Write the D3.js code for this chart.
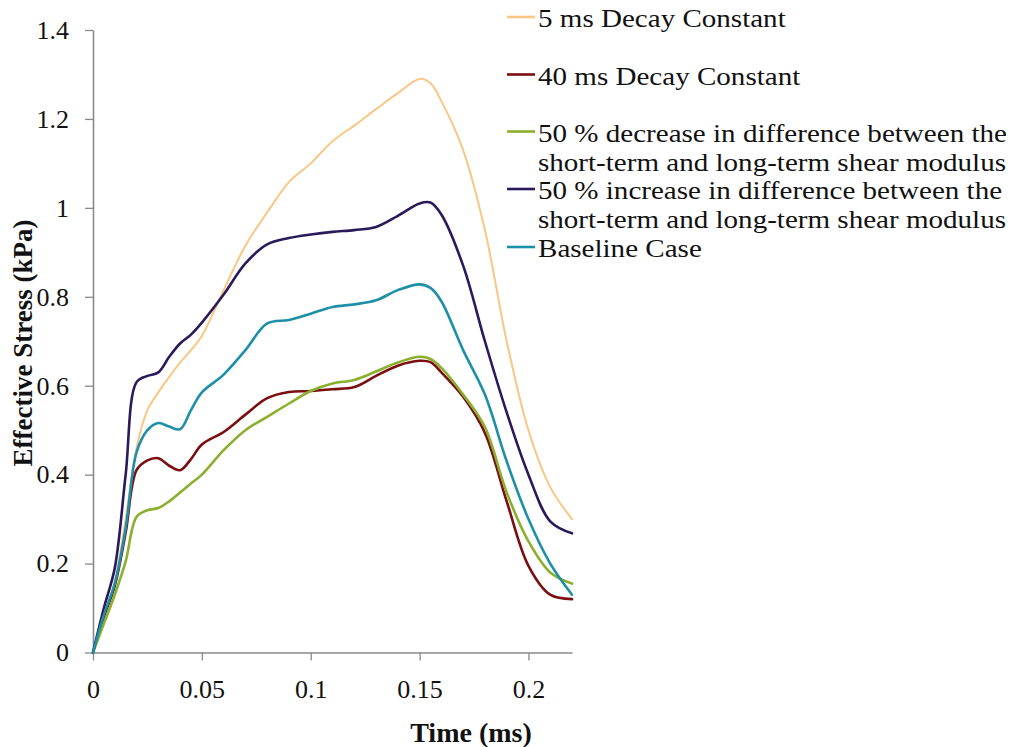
<!DOCTYPE html>
<html>
<head>
<meta charset="utf-8">
<script src="https://cdn.jsdelivr.net/npm/d3@7"></script>
<style>
  html, body { margin: 0; padding: 0; background: #fff; }
  svg { display: block; }
  text { font-family: "Liberation Serif", "Times New Roman", serif; fill: #111; }
</style>
</head>
<body>
<svg id="chart" width="1018" height="747"></svg>
<script>
// Sample times (ms) shared by every series
const times = [0, 0.005, 0.01, 0.015, 0.02, 0.025, 0.03, 0.035, 0.04, 0.045, 0.05,
  0.06, 0.07, 0.08, 0.09, 0.1, 0.11, 0.12, 0.13, 0.14, 0.15, 0.155, 0.16, 0.17,
  0.18, 0.19, 0.2, 0.21, 0.22];

// Effective stress (kPa) for each case
const decay5ms = [0, 0.08, 0.16, 0.30, 0.46, 0.545, 0.585, 0.62, 0.652, 0.68, 0.712,
  0.815, 0.915, 0.99, 1.058, 1.10, 1.15, 1.185, 1.222, 1.258, 1.29, 1.28, 1.24, 1.13,
  0.95, 0.70, 0.50, 0.372, 0.30];
const decay40ms = [0, 0.08, 0.15, 0.27, 0.41, 0.432, 0.437, 0.42, 0.41, 0.435, 0.468,
  0.496, 0.535, 0.572, 0.586, 0.588, 0.592, 0.597, 0.622, 0.645, 0.656, 0.653, 0.63, 0.575,
  0.494, 0.34, 0.195, 0.13, 0.12];
const decrease50 = [0, 0.065, 0.13, 0.205, 0.305, 0.32, 0.325, 0.34, 0.36, 0.38, 0.40,
  0.455, 0.50, 0.53, 0.56, 0.588, 0.605, 0.613, 0.632, 0.652, 0.665, 0.66, 0.64, 0.58,
  0.507, 0.36, 0.25, 0.18, 0.155];
const increase50 = [0, 0.10, 0.19, 0.40, 0.608, 0.622, 0.63, 0.665, 0.695, 0.715, 0.742,
  0.805, 0.875, 0.918, 0.932, 0.94, 0.946, 0.95, 0.957, 0.982, 1.01, 1.012, 0.985, 0.87,
  0.70, 0.54, 0.40, 0.295, 0.268];
const baseline = [0, 0.085, 0.155, 0.28, 0.45, 0.50, 0.516, 0.508, 0.502, 0.545, 0.585,
  0.625, 0.68, 0.74, 0.748, 0.762, 0.777, 0.783, 0.792, 0.815, 0.828, 0.82, 0.79, 0.68,
  0.58, 0.43, 0.30, 0.20, 0.13];

const seriesNames = [
  ["5 ms Decay Constant"],
  ["40 ms Decay Constant"],
  ["50 % decrease in difference between the", "short-term and long-term shear modulus"],
  ["50 % increase in difference between the", "short-term and long-term shear modulus"],
  ["Baseline Case"]
];
const seriesValues = [decay5ms, decay40ms, decrease50, increase50, baseline];
const seriesColors = ["#F9C684", "#7A0E10", "#8BAF2E", "#2B1A5B", "#1D90A8"];
const seriesWidths = [2, 2.6, 2.6, 2.6, 2.6];

const xTicks = [0, 0.05, 0.1, 0.15, 0.2];
const yTicks = [0, 0.2, 0.4, 0.6, 0.8, 1, 1.2, 1.4];

const serif = "'Liberation Serif', 'Times New Roman', Times, serif";

const svg = d3.select("#chart");

const x = d3.scaleLinear().domain([0, 0.22]).range([93, 572]);
const y = d3.scaleLinear().domain([0, 1.4]).range([652.5, 30]);

const axisColor = "#8a8a8a";

// Y axis
const yAxis = svg.append("g")
  .attr("transform", `translate(${x(0)},0)`)
  .call(d3.axisLeft(y).tickValues(yTicks).tickFormat(d => String(d))
    .tickSize(8).tickSizeOuter(0).tickPadding(16));

// X axis
const xAxis = svg.append("g")
  .attr("transform", `translate(0,${y(0)})`)
  .call(d3.axisBottom(x).tickValues(xTicks).tickFormat(d => String(d))
    .tickSize(8).tickSizeOuter(0).tickPadding(19));

[yAxis, xAxis].forEach(g => {
  g.select(".domain").attr("stroke", axisColor).attr("stroke-width", 1.6);
  g.selectAll(".tick line").attr("stroke", axisColor).attr("stroke-width", 1.3);
  g.selectAll(".tick text")
    .attr("font-family", serif)
    .attr("font-size", 26).attr("fill", "#111");
});

// Axis titles
svg.append("text")
  .attr("transform", `translate(32,343) rotate(-90)`)
  .attr("text-anchor", "middle")
  .attr("font-family", serif)
  .attr("font-size", 27).attr("font-weight", "bold")
  .text("Effective Stress (kPa)");

svg.append("text")
  .attr("x", 471).attr("y", 742)
  .attr("text-anchor", "middle")
  .attr("font-family", serif)
  .attr("font-size", 28).attr("font-weight", "bold")
  .text("Time (ms)");

// Curves
const line = d3.line()
  .x((d, i) => x(times[i]))
  .y(d => y(d))
  .curve(d3.curveCatmullRom.alpha(0.5));

svg.append("g").selectAll("path")
  .data(seriesValues)
  .join("path")
  .attr("d", d => line(d))
  .attr("fill", "none")
  .attr("stroke", (d, i) => seriesColors[i])
  .attr("stroke-width", (d, i) => seriesWidths[i])
  .attr("stroke-linejoin", "round")
  .attr("stroke-linecap", "round");

// Legend
const legendBaselines = [27, 84.5, 141.5, 199, 257];
const legendLineGap = 29;
const legend = svg.append("g");
seriesNames.forEach((lines, i) => {
  const by = legendBaselines[i];
  legend.append("line")
    .attr("x1", 507).attr("x2", 535)
    .attr("y1", by - 10).attr("y2", by - 10)
    .attr("stroke", seriesColors[i]).attr("stroke-width", 2.6);
  lines.forEach((t, j) => {
    legend.append("text")
      .attr("transform", `translate(538,${by + j * legendLineGap}) scale(1.14,1)`)
      .attr("font-family", serif)
      .attr("font-size", 25.5)
      .text(t);
  });
});
</script>
</body>
</html>
